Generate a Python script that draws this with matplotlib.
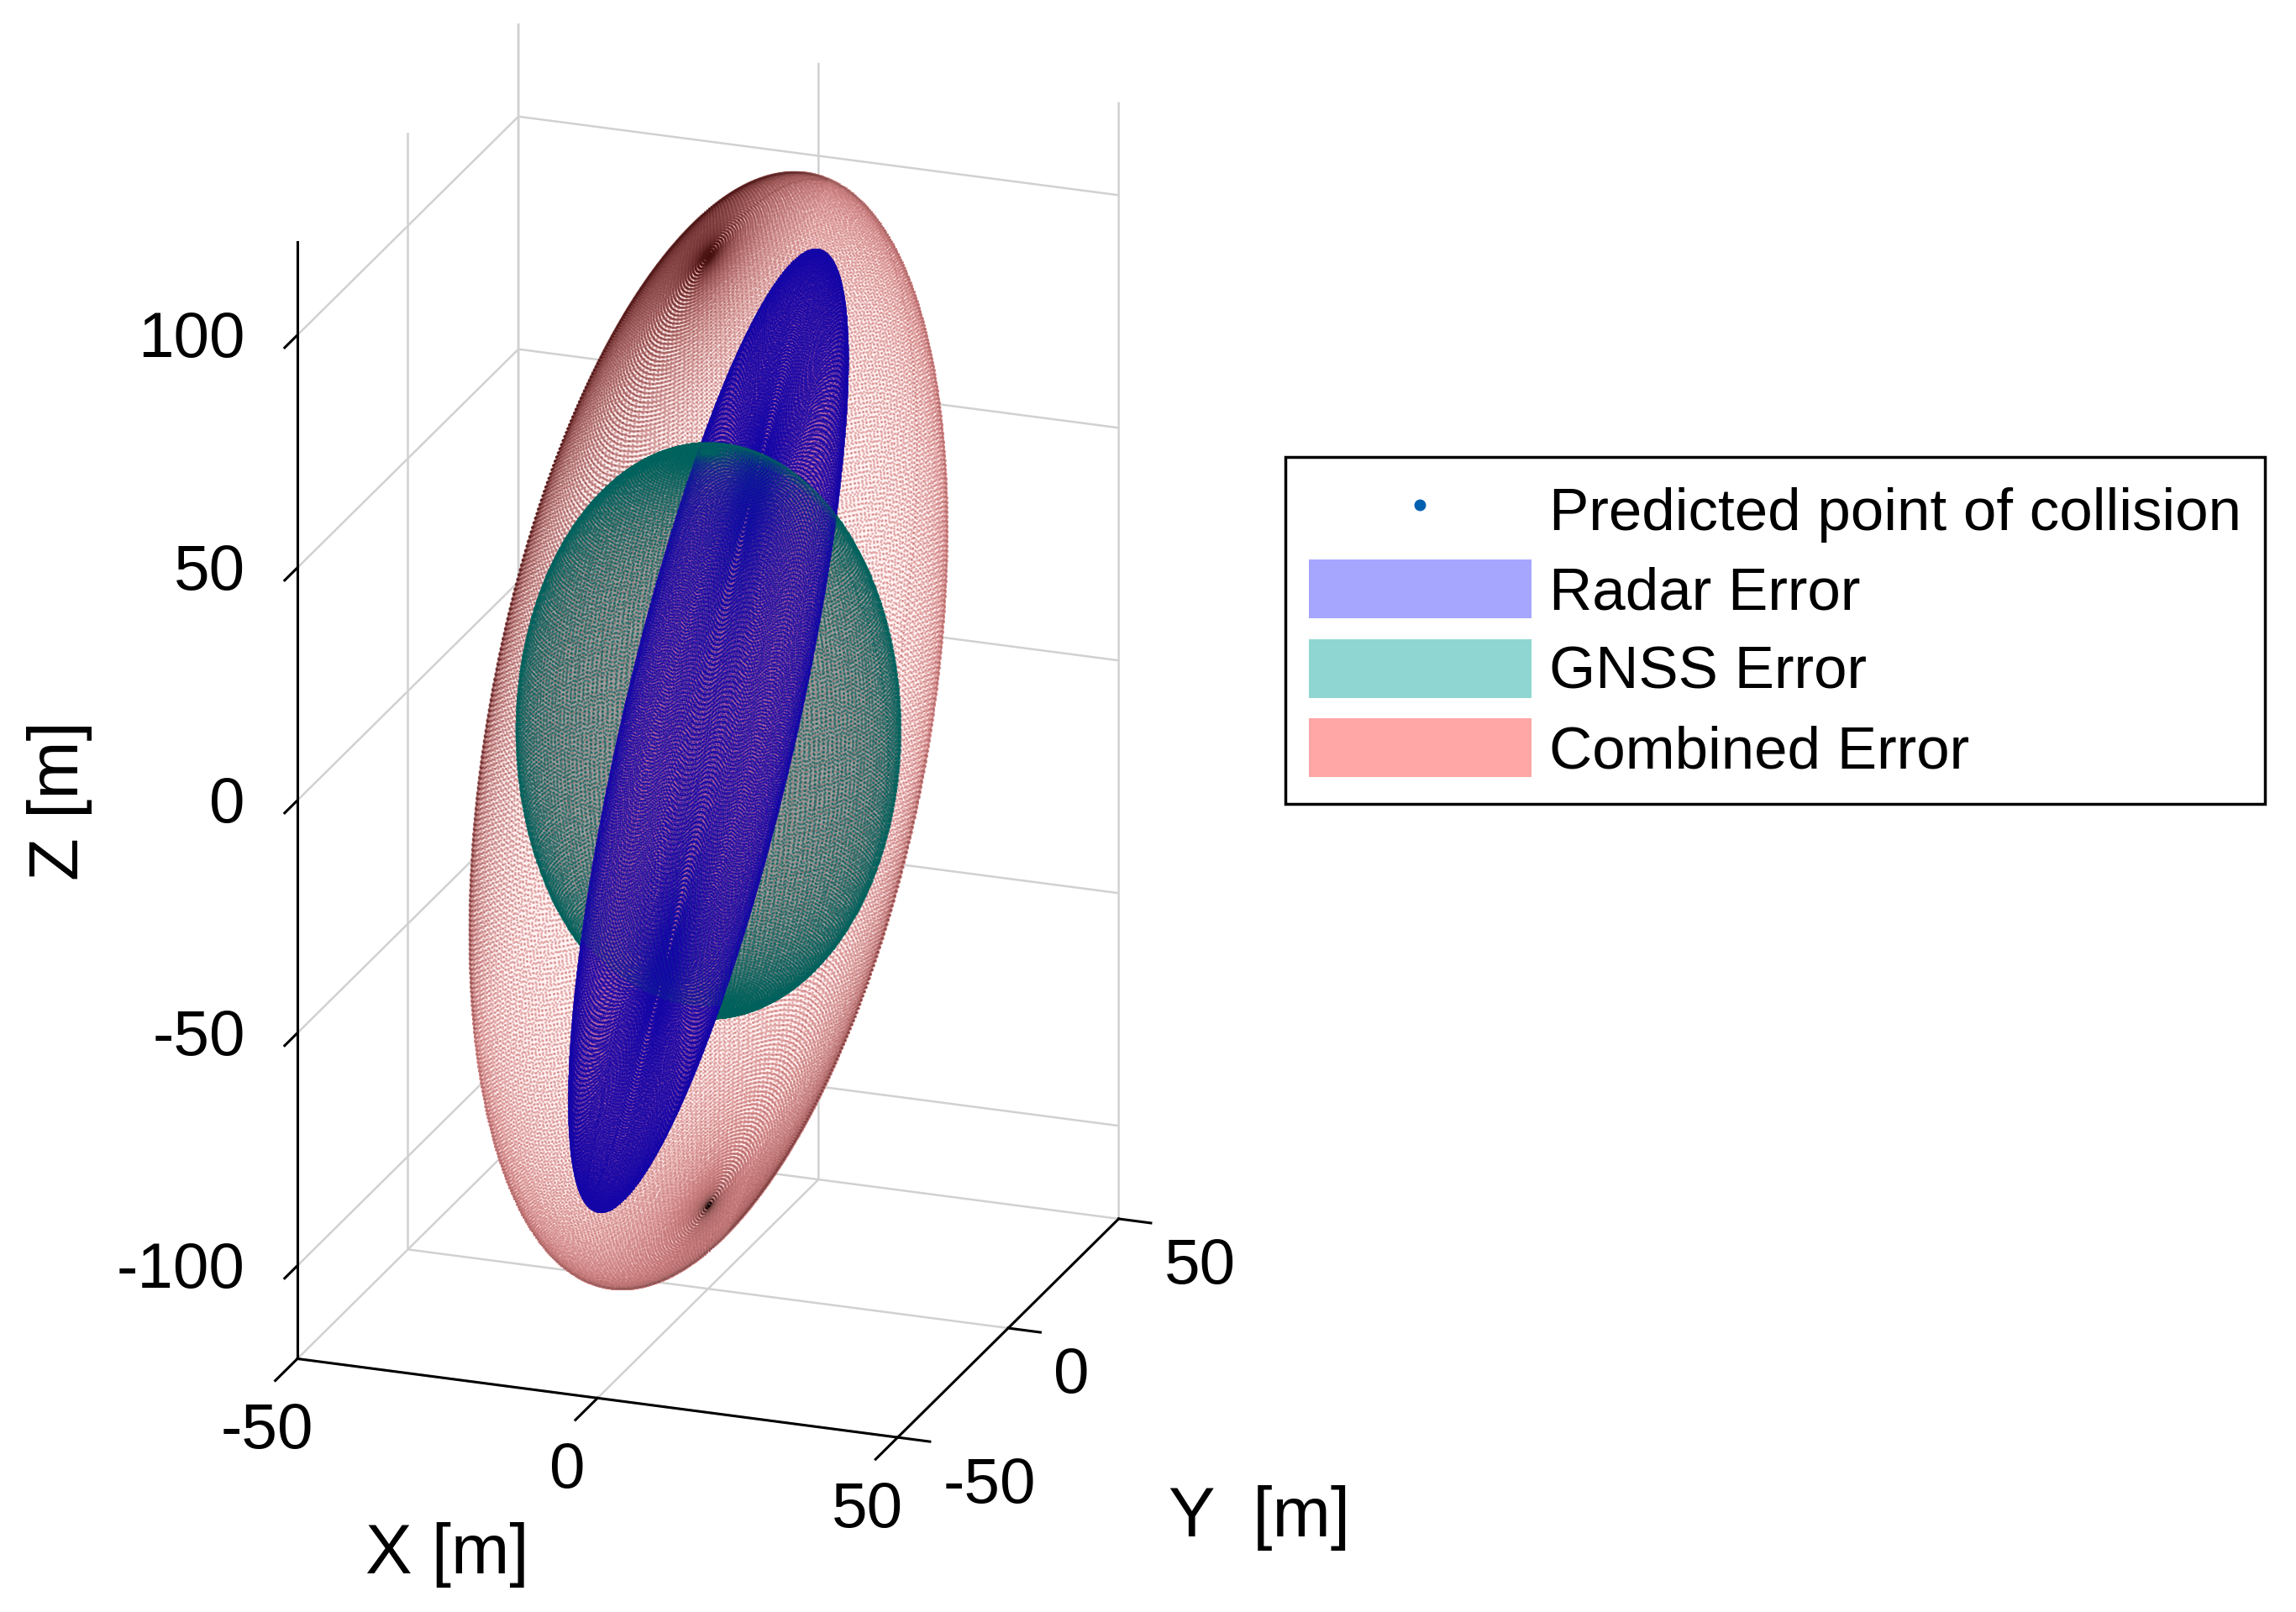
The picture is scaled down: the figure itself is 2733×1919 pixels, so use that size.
import numpy as np
import matplotlib
matplotlib.use("Agg")
import matplotlib.pyplot as plt
from matplotlib.lines import Line2D
from matplotlib.patches import Patch
from matplotlib.text import Text
from matplotlib.transforms import offset_copy
from mpl_toolkits.mplot3d import proj3d

plt.rcParams['font.family'] = ['Liberation Sans', 'DejaVu Sans']
plt.rcParams['axes.unicode_minus'] = False

W, H = 2733, 1919
DPI = 100

x_ticks = [-50, 0, 50]
y_ticks = [-50, 0, 50]
z_ticks = [-100, -50, 0, 50, 100]
x_lim = (-50, 50)
y_lim = (-50, 50)
z_lim = (-120, 120)

collision_point = [0, 0, 0]

# Semi-axis vectors of each error ellipsoid [m]
combined_axes = [[20, 40, 45], [15, 12, -22], [0, 0, 102]]
gnss_axes = [[30, 0, 0], [0, 30, 0], [0, 0, 60]]
radar_axes = [[-9.9, -24.7, -77.7], [-8.89, -5.94, 19.3], [3.09, 11.9, 46.8]]

mesh_combined = 300
mesh_gnss = 210
mesh_radar = 300

ELEV, AZIM = 21.1, -70
BOX = (436, 441, 817)


def surface(axes_vec, n):
    u = np.linspace(0, 2 * np.pi, n + 1)
    v = np.linspace(0, np.pi, n + 1)
    uu, vv = np.meshgrid(u, v)
    a, b, c = [np.array(k, float) for k in axes_vec]
    e1 = np.sin(vv) * np.cos(uu)
    e2 = np.sin(vv) * np.sin(uu)
    e3 = np.cos(vv)
    return (a[0] * e1 + b[0] * e2 + c[0] * e3,
            a[1] * e1 + b[1] * e2 + c[1] * e3,
            a[2] * e1 + b[2] * e2 + c[2] * e3)


fig = plt.figure(figsize=(W / DPI, H / DPI), dpi=DPI, facecolor='white')
ax = fig.add_axes([0, 0, 1, 1], projection='3d', computed_zorder=False)
ax.set_proj_type('ortho')
ax.view_init(elev=ELEV, azim=AZIM)
ax.set_box_aspect(BOX)


def dots(X, Y, Z, size, color, z):
    c = color if isinstance(color, np.ndarray) else [color]
    ax.scatter(X.ravel(), Y.ravel(), Z.ravel(), s=size, c=c, linewidths=0,
               depthshade=False, zorder=z)


def draw_ellipsoid(axes_vec, n, fill, dot, size, base_z, rim=0.0):
    X, Y, Z = surface(axes_vec, 80)
    ax.plot_surface(X, Y, Z, color=fill, shade=False, linewidth=0,
                    antialiased=False, zorder=base_z, rcount=80, ccount=80)
    X, Y, Z = surface(axes_vec, n)
    dots(X, Y, Z, size, dot, base_z + 0.5)
    if rim:
        dots(X, Y, Z, 3.0, (0, 0, 0, rim), base_z + 0.6)
    return X, Y, Z


ax.scatter(*[[c] for c in collision_point], s=30, c='#0060B0', depthshade=False, zorder=1)
cx_s, cy_s, cz_s = draw_ellipsoid(combined_axes, mesh_combined, (1.0, 0.95, 0.95, 1.0),
                                  (0.88, 0.54, 0.54, 0.62), 4.0, 2, rim=0.045)

# darker shading towards the upper-left and lower-right flanks of the combined ellipsoid
side = ((-0.92 * (4.10 * cx_s + 1.51 * cy_s) + 0.38 * (-0.54 * cx_s + 1.49 * cy_s + 3.174 * cz_s)) / 250)
shade = np.zeros(side.shape + (4,))
shade[..., 0] = 0.30
shade[..., 1] = 0.08
shade[..., 2] = 0.08
shade[..., 3] = np.clip((side - 0.25) / 0.75, 0, 1) * 0.42 + np.clip((-side - 0.55) / 0.45, 0, 1) * 0.22
keep = shade[..., 3] > 0.01
dots(cx_s[keep], cy_s[keep], cz_s[keep], 4.0, shade[keep], 2.7)

draw_ellipsoid(gnss_axes, mesh_gnss, (0.38, 0.42, 0.41, 0.38), (0.0, 0.38, 0.36, 0.66), 3.6, 4)
draw_ellipsoid(radar_axes, mesh_radar, (0.72, 0.38, 0.62, 0.72), (0.08, 0.02, 0.66, 0.78), 2.8, 6)

# near half of the GNSS ellipsoid lies over the radar ellipsoid
gx, gy, gz = surface(gnss_axes, mesh_gnss)
el, az = np.radians(ELEV), np.radians(AZIM)
depth = (gx * BOX[0] / 100 * np.cos(el) * np.cos(az)
         + gy * BOX[1] / 100 * np.cos(el) * np.sin(az)
         + gz * BOX[2] / 240 * np.sin(el))
near = depth > 0
dots(gx[near], gy[near], gz[near], 3.0, (0.0, 0.40, 0.38, 0.22), 8)

ax.set_xlim(*x_lim, view_margin=0)
ax.set_ylim(*y_lim, view_margin=0)
ax.set_zlim(*z_lim, view_margin=0)
ax.set_xticks(x_ticks)
ax.set_yticks(y_ticks)
ax.set_zticks(z_ticks)
ax.zaxis.set_ticks_position('lower')
ax.patch.set_alpha(0)

for axis, length in ((ax.xaxis, 1.25), (ax.yaxis, 0.67), (ax.zaxis, 0.72)):
    axis.set_pane_color((1, 1, 1, 0))
    axis.pane.set_edgecolor((1, 1, 1, 0))
    axis.line.set_color('black')
    axis.line.set_linewidth(2.2)
    axis._axinfo['grid']['color'] = (0.82, 0.82, 0.82, 1)
    axis._axinfo['grid']['linewidth'] = 1.8
    axis._axinfo['tick']['inward_factor'] = length
    axis._axinfo['tick']['outward_factor'] = 0
    axis._axinfo['tick']['linewidth'] = {True: 2.2, False: 2.2}
    axis._axinfo['tick']['color'] = 'black'
    axis._axinfo['label']['va'] = 'center'
    axis._axinfo['label']['ha'] = 'center'
    axis.set_tick_params(labelsize=55, pad=16, colors='black')
    axis.set_rotate_label(False)


def shift_tick_labels(axis, dx, dy, ha):
    for tick in axis.get_major_ticks():
        lab = tick.label1
        lab.set_ha(ha)
        lab.set_transform(offset_copy(ax.transData, fig=fig, x=dx, y=dy, units='dots'))
        lab.set_transform = lambda t: None


shift_tick_labels(ax.xaxis, -26, 7, 'center')
shift_tick_labels(ax.yaxis, 28, 30, 'left')
shift_tick_labels(ax.zaxis, -26, 35, 'right')

fig.legend(handles=[
    Line2D([], [], ls='', marker='o', ms=9, color='#0060B0', label='Predicted point of collision'),
    Patch(facecolor='#A6A6FF', edgecolor='none', label='Radar Error'),
    Patch(facecolor='#8FD6D2', edgecolor='none', label='GNSS Error'),
    Patch(facecolor='#FFA6A6', edgecolor='none', label='Combined Error'),
], loc='upper left', bbox_to_anchor=(1530 / W, 1 - 544 / H), borderaxespad=0,
    fontsize=51, frameon=True, fancybox=False, framealpha=1, edgecolor='black',
    handlelength=3.75, handleheight=1.145, handletextpad=0.3, borderpad=0.39,
    labelspacing=0.29).get_frame().set_linewidth(2.5)


# Fit the axes box on the canvas from where the box corners land
def corner_px(x, y, z):
    px, py, _ = proj3d.proj_transform(x, y, z, ax.get_proj())
    return ax.transData.transform((px, py))


target_a = np.array([354.0, H - 1617.5])
target_b = np.array([1068.5, H - 1711.6])
for _ in range(3):
    fig.canvas.draw()
    a = corner_px(-50, -50, -120)
    b = corner_px(50, -50, -120)
    scale = np.linalg.norm(target_b - target_a) / np.linalg.norm(b - a)
    bb = ax.get_position()
    wpx, hpx = bb.width * W * scale, bb.height * H * scale
    cx, cy = (bb.x0 + bb.width / 2) * W, (bb.y0 + bb.height / 2) * H
    a_new = np.array([cx, cy]) + (a - np.array([cx, cy])) * scale
    cx += target_a[0] - a_new[0]
    cy += target_a[1] - a_new[1]
    ax.set_position([(cx - wpx / 2) / W, (cy - hpx / 2) / H, wpx / W, hpx / H])
fig.canvas.draw()


def place_label(axis, text, px, py, rotation=0):
    axis.set_label_text(text, fontsize=60, rotation=rotation)
    lab = axis.label
    Text.set_position(lab, tuple(ax.transData.inverted().transform((px, H - py))))
    lab.set_position = lambda xy: None


place_label(ax.xaxis, 'X [m]', 532, 1851)
place_label(ax.yaxis, 'Y  [m]', 1499, 1807)
place_label(ax.zaxis, 'Z [m]', 71, 953, rotation=90)

fig.savefig('out.png', dpi=DPI, facecolor='white')
